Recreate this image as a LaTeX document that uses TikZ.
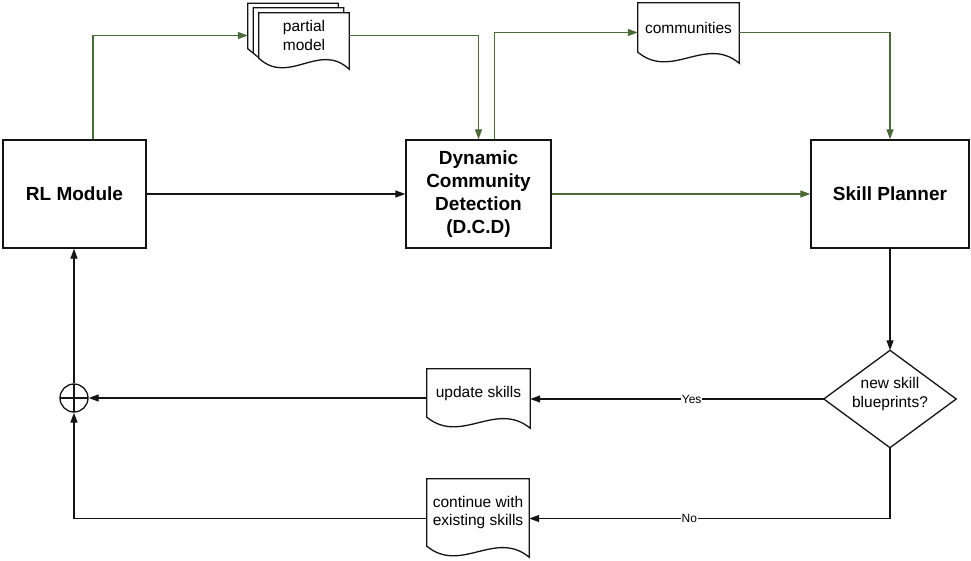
\documentclass[tikz,border=0pt]{standalone}
\usepackage{fontspec}
\setmainfont{Liberation Sans}
\usetikzlibrary{arrows.meta,calc,backgrounds}
\definecolor{edgegreen}{RGB}{74,107,56}
\definecolor{ink}{RGB}{20,20,20}
\newcommand\docpath[2]{%
 \draw[docline] ($(#1.north west)+(#2)$) -- ($(#1.north east)+(#2)$) -- ($(#1.south east)+(#2)+(0,11)$)
  .. controls ($(#1.south east)!0.333!(#1.south west)+(#2)+(0,-17)$) and ($(#1.south west)!0.333!(#1.south east)+(#2)+(0,28)$) ..
  ($(#1.south west)+(#2)$) -- cycle;}
\begin{document}
\begin{tikzpicture}[x=1pt,y=-1pt,
 box/.style={draw=ink,line width=1.4pt,fill=white,inner sep=0pt,align=center,font=\fontsize{19}{23}\selectfont\bfseries},
 docnode/.style={inner sep=0pt,align=center,font=\fontsize{15.5}{18.5}\selectfont},
 docline/.style={draw=ink,line width=1.3pt,fill=white},
 conn/.style={draw=ink,line width=1.3pt,-{Triangle[length=10pt,width=7pt]}},
 gconn/.style={draw=edgegreen,line width=1.3pt,-{Triangle[length=10pt,width=7pt]}},
 edgelabel/.style={fill=white,inner sep=1pt,font=\fontsize{12}{14}\selectfont}]
\useasboundingbox (0,0) rectangle (971,561);

\node[box,minimum width=143pt,minimum height=108pt] (rl) at (74.5,194) {RL Module};
\node[box,minimum width=145pt,minimum height=108pt] (dcd) at (478.5,194) {Dynamic\\Community\\Detection\\(D.C.D)};
\node[box,minimum width=158pt,minimum height=108pt] (sp) at (890,194) {Skill Planner};

\node[docnode,minimum width=90pt,minimum height=45pt] (pm) at (304,35.5) {partial\\model};
\node[docnode,minimum width=101pt,minimum height=49pt] (cm) at (688.5,27.5) {communities};
\node[docnode,minimum width=103pt,minimum height=48pt] (us) at (478.5,393) {update skills};
\node[docnode,minimum width=102pt,minimum height=67pt] (cw) at (478,512.5) {continue with\\existing skills};

\begin{pgfonlayer}{background}
 \docpath{pm}{-11,-9.5}
 \docpath{pm}{-5.5,-5}
 \docpath{pm}{0,0}
 \docpath{cm}{0,0}
 \docpath{us}{0,0}
 \docpath{cw}{0,0}
\end{pgfonlayer}

\node[inner sep=0pt,minimum width=132pt,minimum height=97pt] (dm) at (890,399) {};
\draw[docline] (dm.north) -- (dm.east) -- (dm.south) -- (dm.west) -- cycle;
\node[docnode] (dmt) at (890,394) {new skill\\blueprints?};

\node[circle,draw=ink,line width=1.3pt,minimum size=28pt,inner sep=0pt,
  path picture={\draw[ink,line width=1.1pt] (path picture bounding box.north) -- (path picture bounding box.south)
   (path picture bounding box.west) -- (path picture bounding box.east);}] (op) at (74,398) {};

\coordinate (rlup) at ($(rl.north)+(18.5,0)$);
\coordinate (pmin) at ($(pm.west)+(-11,0)$);
\coordinate (dcdup) at ($(dcd.north)+(16,0)$);
\coordinate (cmin) at ($(cm.west)+(0,5)$);
\coordinate (cmout) at ($(cm.east)+(0,5)$);
\coordinate (cwin) at ($(cw.east)+(0,6)$);
\coordinate (cwout) at ($(cw.west)+(0,6)$);

\draw[conn] (rl.east) -- (dcd.west);
\draw[gconn] (dcd.east) -- (sp.west);
\draw[gconn] (rlup) |- (pmin);
\draw[gconn] (pm.east) -| (dcd.north);
\draw[gconn] (dcdup) |- (cmin);
\draw[gconn] (cmout) -| (sp.north);
\draw[conn] (sp.south) -- (dm.north);
\draw[conn] (dm.west) -- node[edgelabel,pos=0.45]{Yes} (dm.west -| us.east);
\draw[conn] (dm.south) |- node[edgelabel,pos=0.778]{No} (cwin);
\draw[conn] (op.east -| us.west) -- (op.east);
\draw[conn] (cwout) -| (op.south);
\draw[conn] (op.north) -- (op.north |- rl.south);
\end{tikzpicture}
\end{document}
